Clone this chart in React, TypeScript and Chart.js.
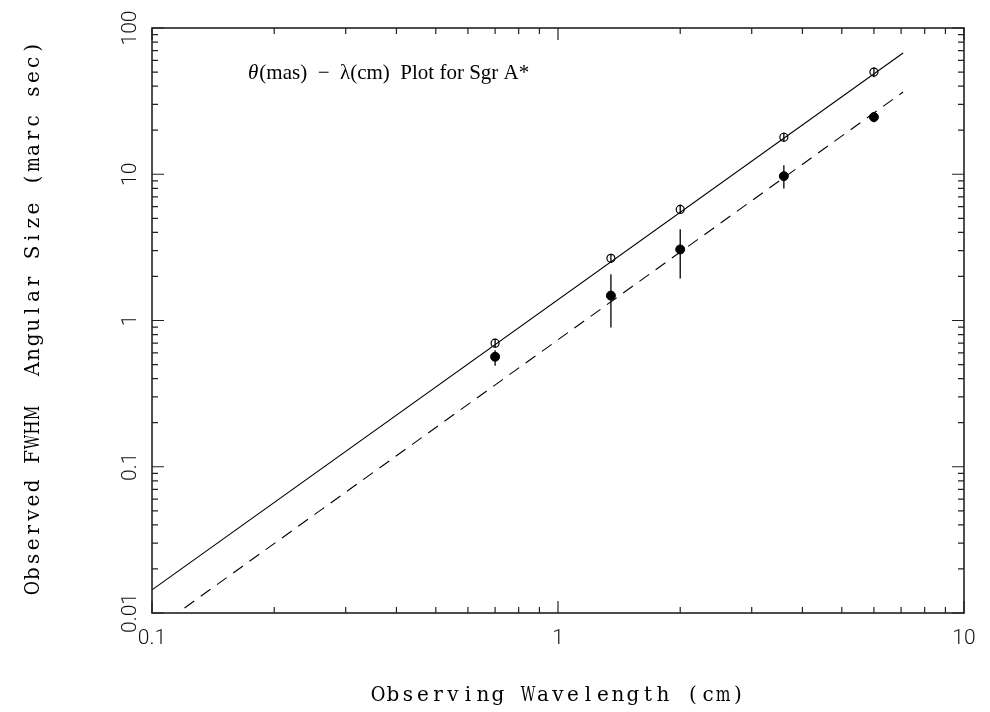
import React, { useEffect, useRef } from "react";
import { Chart, registerables } from "chart.js";

Chart.register(...registerables);

// ---- data ----
const wavelengths = [0.7, 1.35, 2.0, 3.6, 6.0];
const openSize = [0.7, 2.66, 5.75, 17.9, 50.0];
const openLow = [0.65, 2.48, 5.35, 16.6, 46.0];
const openHigh = [0.75, 2.86, 6.2, 19.3, 54.0];
const filledSize = [0.565, 1.48, 3.06, 9.7, 24.6];
const filledLow = [0.49, 0.895, 1.94, 8.0, 22.7];
const filledHigh = [0.625, 2.07, 4.2, 11.5, 26.6];

const fitX = [0.1, 7.08];
const solidFitY = [0.0144, 67.4];
const dashedFitY = [0.0075, 36.5];

const xTickValues = [0.1, 1, 10];
const xTickLabels = ["0.1", "1", "10"];
const yTickValues = [0.01, 0.1, 1, 10, 100];
const yTickLabels = ["0.01", "0.1", "1", "10", "100"];

const titleTheta = "θ";
const titleRest = "(mas)  −  λ(cm)  Plot for Sgr A*";
const xTitle = "Observing Wavelength (cm)";
const yTitle = "Observed FWHM  Angular Size (marc sec)";

const W = 990;
const H = 712;

function drawMono(ctx: CanvasRenderingContext2D, text: string, cx: number, y: number, pitch: number) {
  const start = cx - (text.length * pitch) / 2;
  ctx.textAlign = "center";
  for (let i = 0; i < text.length; i++) {
    const ch = text[i];
    const w = ctx.measureText(ch).width;
    const maxW = pitch * 0.98;
    const cxi = start + (i + 0.5) * pitch;
    if (w > maxW) {
      ctx.save();
      ctx.translate(cxi, y);
      ctx.scale(maxW / w, 1);
      ctx.fillText(ch, 0, 0);
      ctx.restore();
    } else {
      ctx.fillText(ch, cxi, y);
    }
  }
}

const framePlugin = {
  id: "pgframe",
  afterDatasetsDraw(chart: any) {
    const { ctx, chartArea: a, scales } = chart;
    const x = scales.x;
    const y = scales.y;
    ctx.save();

    // error bars
    ctx.strokeStyle = "#000";
    ctx.lineWidth = 1.3;
    const bars = (lo: number[], hi: number[]) => {
      wavelengths.forEach((w, i) => {
        const px = x.getPixelForValue(w);
        ctx.beginPath();
        ctx.moveTo(px, y.getPixelForValue(lo[i]));
        ctx.lineTo(px, y.getPixelForValue(hi[i]));
        ctx.stroke();
      });
    };
    bars(openLow, openHigh);
    bars(filledLow, filledHigh);

    // frame
    ctx.strokeStyle = "#222";
    ctx.lineWidth = 1.6;
    ctx.strokeRect(a.left, a.top, a.right - a.left, a.bottom - a.top);

    // ticks (inside, all four sides)
    ctx.lineWidth = 1.2;
    const major = 12;
    const minor = 6;
    for (let d = -1; d <= 1; d++) {
      for (let k = 1; k <= 9; k++) {
        const v = k * Math.pow(10, d);
        if (v < 0.1 - 1e-9 || v > 10 + 1e-9) continue;
        const px = x.getPixelForValue(v);
        const len = k === 1 ? major : minor;
        ctx.beginPath();
        ctx.moveTo(px, a.bottom);
        ctx.lineTo(px, a.bottom - len);
        ctx.moveTo(px, a.top);
        ctx.lineTo(px, a.top + len);
        ctx.stroke();
      }
    }
    for (let d = -2; d <= 2; d++) {
      for (let k = 1; k <= 9; k++) {
        const v = k * Math.pow(10, d);
        if (v < 0.01 - 1e-9 || v > 100 + 1e-9) continue;
        const py = y.getPixelForValue(v);
        const len = k === 1 ? major : minor;
        ctx.beginPath();
        ctx.moveTo(a.left, py);
        ctx.lineTo(a.left + len, py);
        ctx.moveTo(a.right, py);
        ctx.lineTo(a.right - len, py);
        ctx.stroke();
      }
    }

    // tick labels
    ctx.fillStyle = "#111";
    ctx.font = "300 21px Roboto, 'Liberation Sans', sans-serif";
    ctx.textAlign = "center";
    ctx.textBaseline = "alphabetic";
    xTickValues.forEach((v, i) => {
      ctx.fillText(xTickLabels[i], x.getPixelForValue(v), a.bottom + 31);
    });
    yTickValues.forEach((v, i) => {
      ctx.save();
      ctx.translate(a.left - 16, y.getPixelForValue(v));
      ctx.rotate(-Math.PI / 2);
      ctx.fillText(yTickLabels[i], 0, 0);
      ctx.restore();
    });

    // axis titles (fixed pitch serif)
    ctx.fillStyle = "#000";
    ctx.font = "20px 'DejaVu Serif', serif";
    drawMono(ctx, xTitle, (a.left + a.right) / 2, 701, 15);
    ctx.save();
    ctx.translate(39, 318);
    ctx.rotate(-Math.PI / 2);
    drawMono(ctx, yTitle, 0, 0, 14.6);
    ctx.restore();

    // title inside plot
    ctx.fillStyle = "#000";
    ctx.textAlign = "left";
    ctx.font = "italic 21px 'Liberation Serif', serif";
    ctx.fillText(titleTheta, 248, 79);
    const tw = ctx.measureText(titleTheta).width;
    ctx.font = "21px 'Liberation Serif', serif";
    ctx.fillText(titleRest, 248 + tw + 1, 79);

    ctx.restore();
  },
};

export default function App() {
  const ref = useRef<HTMLCanvasElement | null>(null);
  useEffect(() => {
    if (!ref.current) return;
    const chart = new Chart(ref.current, {
      type: "scatter",
      data: {
        datasets: [
          {
            label: "fit open",
            data: fitX.map((v, i) => ({ x: v, y: solidFitY[i] })),
            showLine: true,
            borderColor: "#000",
            borderWidth: 1.1,
            pointRadius: 0,
            fill: false,
          },
          {
            label: "fit filled",
            data: fitX.map((v, i) => ({ x: v, y: dashedFitY[i] })),
            showLine: true,
            borderColor: "#000",
            borderWidth: 1.1,
            borderDash: [12, 8],
            pointRadius: 0,
            fill: false,
          },
          {
            label: "open",
            data: wavelengths.map((v, i) => ({ x: v, y: openSize[i] })),
            showLine: false,
            pointRadius: 4,
            pointBorderWidth: 1.2,
            pointBorderColor: "#000",
            pointBackgroundColor: "rgba(0,0,0,0)",
          },
          {
            label: "filled",
            data: wavelengths.map((v, i) => ({ x: v, y: filledSize[i] })),
            showLine: false,
            pointRadius: 4.5,
            pointBorderWidth: 1,
            pointBorderColor: "#000",
            pointBackgroundColor: "#000",
          },
        ],
      },
      options: {
        animation: false,
        responsive: false,
        devicePixelRatio: 1,
        events: [],
        layout: { padding: { left: 152, right: W - 964, top: 28, bottom: H - 613 } },
        plugins: { legend: { display: false }, tooltip: { enabled: false }, title: { display: false } },
        scales: {
          x: { type: "logarithmic", min: 0.1, max: 10, display: false },
          y: { type: "logarithmic", min: 0.01, max: 100, display: false },
        },
      },
      plugins: [framePlugin],
    } as any);
    return () => chart.destroy();
  }, []);
  return (
    <div style={{ position: "fixed", left: 0, top: 0, width: W, height: H, background: "#fff" }}>
      <canvas ref={ref} width={W} height={H} style={{ display: "block", width: W, height: H }} />
    </div>
  );
}
